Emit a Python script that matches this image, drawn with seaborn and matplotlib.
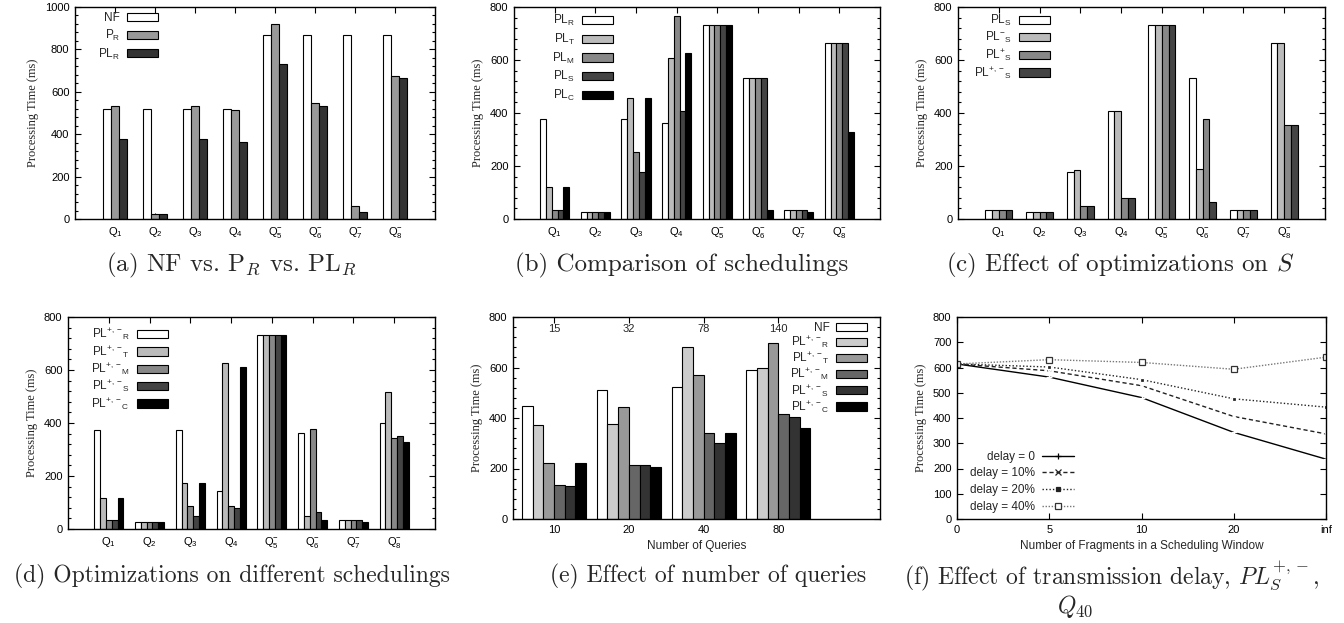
import matplotlib
matplotlib.use('Agg')
import matplotlib.pyplot as plt
from matplotlib.patches import Patch
from matplotlib.lines import Line2D
from matplotlib.ticker import MultipleLocator, AutoMinorLocator
import pandas as pd
import seaborn as sns

# ---------------- data ----------------
queries = [r'$\mathrm{Q_1}$', r'$\mathrm{Q_2}$', r'$\mathrm{Q_3}$', r'$\mathrm{Q_4}$',
           r'$\mathrm{Q^{-}_5}$', r'$\mathrm{Q^{-}_6}$', r'$\mathrm{Q^{-}_7}$', r'$\mathrm{Q^{-}_8}$']

# (a) NF vs. P_R vs. PL_R
a_nf = [520, 520, 520, 520, 870, 870, 870, 870]
a_pr = [532, 25, 532, 516, 921, 549, 63, 673]
a_plr = [377, 24, 377, 361, 731, 532, 34, 664]

# (b) comparison of schedulings
b_plr = [377, 25, 377, 361, 731, 532, 34, 665]
b_plt = [119, 25, 455, 609, 731, 532, 34, 665]
b_plm = [34, 25, 251, 767, 731, 532, 34, 665]
b_pls = [34, 25, 178, 408, 731, 532, 34, 665]
b_plc = [119, 25, 455, 627, 731, 34, 26, 330]

# (c) effect of optimizations on S
c_pls = [34, 25, 178, 409, 731, 532, 33, 664]
c_pls_minus = [34, 25, 186, 409, 731, 188, 33, 664]
c_pls_plus = [34, 25, 48, 80, 731, 376, 33, 353]
c_pls_pm = [34, 25, 48, 80, 731, 63, 33, 353]

# (d) optimizations on different schedulings
d_r = [375, 25, 375, 142, 731, 361, 33, 399]
d_t = [118, 25, 172, 627, 731, 48, 33, 516]
d_m = [33, 25, 87, 87, 731, 376, 33, 344]
d_s = [33, 25, 48, 80, 731, 63, 33, 352]
d_c = [118, 25, 172, 610, 731, 33, 25, 328]

# (e) effect of number of queries
e_groups = ['10', '20', '40', '80']
e_counts = ['15', '32', '78', '140']
e_nf = [447, 511, 523, 591]
e_r = [374, 378, 680, 597]
e_t = [220, 442, 570, 698]
e_m = [136, 212, 340, 416]
e_s = [129, 214, 300, 405]
e_c = [222, 206, 340, 362]

# (f) effect of transmission delay
f_x = ['0', '5', '10', '20', 'inf']
f_d0 = [614, 562, 481, 343, 237]
f_d10 = [614, 587, 528, 406, 337]
f_d20 = [614, 602, 552, 476, 443]
f_d40 = [614, 631, 620, 593, 641]

# ---------------- style ----------------
sns.set_style('ticks')
plt.rcParams['font.family'] = ['Liberation Sans', 'DejaVu Sans']
plt.rcParams['mathtext.fontset'] = 'custom'
plt.rcParams['mathtext.rm'] = 'Liberation Sans'
plt.rcParams['mathtext.it'] = 'Liberation Sans:italic'
plt.rcParams['mathtext.bf'] = 'Liberation Sans:bold'
plt.rcParams['axes.edgecolor'] = 'black'
plt.rcParams['axes.linewidth'] = 1.0

W, H = 1344, 623
TICK = 8
LEG = 8.5
fig = plt.figure(figsize=(W / 100, H / 100), dpi=100)


def px_axes(left, top, right, bottom):
    return fig.add_axes([left / W, 1 - bottom / H, (right - left) / W, (bottom - top) / H])


def style_axes(ax, ymax, ystep, minor=True):
    ax.set_ylim(0, ymax)
    ax.yaxis.set_major_locator(MultipleLocator(ystep))
    if minor:
        ax.yaxis.set_minor_locator(AutoMinorLocator(5))
    ax.tick_params(which='both', direction='in', top=True, right=True,
                   labelsize=TICK, colors='black', width=0.8)
    ax.tick_params(which='major', length=4, pad=4)
    ax.tick_params(which='minor', length=2)
    ax.tick_params(axis='x', which='minor', top=False, bottom=False)
    ax.set_ylabel('Processing Time (ms)', family='Liberation Serif', fontsize=9)
    for s in ax.spines.values():
        s.set_visible(True)
        s.set_linewidth(1.0)


def legend_kw(spacing):
    return dict(frameon=False, markerfirst=False, handlelength=2.6, handleheight=0.7,
                labelspacing=spacing, borderpad=0, borderaxespad=0, handletextpad=0.6,
                fontsize=LEG)


def bar_panel(ax, cats, series, labels, colors, ymax, anchor, spacing=0.3):
    rows = []
    for name, vals in series:
        for c, v in zip(cats, vals):
            rows.append({'cat': c, 'series': name, 'time': v})
    df = pd.DataFrame(rows)
    n = len(series)
    sns.barplot(data=df, x='cat', y='time', hue='series', order=cats,
                hue_order=[s[0] for s in series], palette=colors, saturation=1,
                width=n / (n + 2), edgecolor='black', linewidth=0.8,
                legend=False, ax=ax)
    ax.set_xlim(-1, len(cats))
    ax.set_xlabel('')
    style_axes(ax, ymax, 200)
    handles = [Patch(facecolor=c, edgecolor='black', linewidth=0.8) for c in colors]
    ax.legend(handles, labels, loc='upper right', bbox_to_anchor=anchor, **legend_kw(spacing))


col3 = ['#ffffff', '#999999', '#333333']
col4 = ['#ffffff', '#bbbbbb', '#888888', '#444444']
col5 = ['#ffffff', '#bbbbbb', '#888888', '#444444', '#000000']
col6 = ['#ffffff', '#cccccc', '#999999', '#666666', '#333333', '#000000']

# (a)
ax = px_axes(75, 7, 435, 219)
bar_panel(ax, queries, [('NF', a_nf), ('PR', a_pr), ('PLR', a_plr)],
          ['NF', r'$\mathrm{P_R}$', r'$\mathrm{PL_R}$'], col3, 1000, (0.23, 0.975))

# (b)
ax = px_axes(514, 7, 880, 219)
bar_panel(ax, queries,
          [('R', b_plr), ('T', b_plt), ('M', b_plm), ('S', b_pls), ('C', b_plc)],
          [r'$\mathrm{PL_R}$', r'$\mathrm{PL_T}$', r'$\mathrm{PL_M}$',
           r'$\mathrm{PL_S}$', r'$\mathrm{PL_C}$'], col5, 800, (0.27, 0.97))

# (c)
ax = px_axes(958, 7, 1325, 219)
bar_panel(ax, queries,
          [('S', c_pls), ('S-', c_pls_minus), ('S+', c_pls_plus), ('S+-', c_pls_pm)],
          [r'$\mathrm{PL_S}$', r'$\mathrm{PL^{-}{}_S}$', r'$\mathrm{PL^{+}{}_S}$',
           r'$\mathrm{PL^{+,-}{}_S}$'], col4, 800, (0.25, 0.97), spacing=0.15)

# (d)
ax = px_axes(68, 317, 435, 529)
bar_panel(ax, queries,
          [('R', d_r), ('T', d_t), ('M', d_m), ('S', d_s), ('C', d_c)],
          [r'$\mathrm{PL^{+,-}{}_R}$', r'$\mathrm{PL^{+,-}{}_T}$', r'$\mathrm{PL^{+,-}{}_M}$',
           r'$\mathrm{PL^{+,-}{}_S}$', r'$\mathrm{PL^{+,-}{}_C}$'], col5, 800, (0.272, 0.955),
          spacing=0.12)

# (e)
ax = px_axes(513, 317, 880, 519)
rows = []
for name, vals in [('NF', e_nf), ('R', e_r), ('T', e_t), ('M', e_m), ('S', e_s), ('C', e_c)]:
    for g, v in zip(e_groups, vals):
        rows.append({'group': g, 'series': name, 'time': v})
dfe = pd.DataFrame(rows)
sns.barplot(data=dfe, x='group', y='time', hue='series', order=e_groups,
            hue_order=['NF', 'R', 'T', 'M', 'S', 'C'], palette=col6, saturation=1,
            width=6 / 7, edgecolor='black', linewidth=0.8, legend=False, ax=ax)
ax.set_xlim(-0.55, 4.36)
style_axes(ax, 800, 200)
ax.set_xlabel('Number of Queries', fontsize=8.5)
for i, t in enumerate(e_counts):
    ax.text(i, 752, t, ha='center', va='center', fontsize=TICK)
handles = [Patch(facecolor=c, edgecolor='black', linewidth=0.8) for c in col6]
ax.legend(handles, ['NF', r'$\mathrm{PL^{+,-}{}_R}$', r'$\mathrm{PL^{+,-}{}_T}$',
                    r'$\mathrm{PL^{+,-}{}_M}$', r'$\mathrm{PL^{+,-}{}_S}$',
                    r'$\mathrm{PL^{+,-}{}_C}$'],
          loc='upper right', bbox_to_anchor=(0.965, 0.975), **legend_kw(0.02))

# (f)
ax = px_axes(957, 317, 1326, 519)
pos = list(range(len(f_x)))
specs = [
    ('delay = 0', f_d0, dict(color='black', linestyle='-', marker='+', markersize=5)),
    ('delay = 10%', f_d10, dict(color='#222222', linestyle=(0, (3, 2)), marker='x', markersize=4)),
    ('delay = 20%', f_d20, dict(color='#222222', linestyle=(0, (1, 1.5)), marker='s',
                                markersize=2.5)),
    ('delay = 40%', f_d40, dict(color='#777777', linestyle=(0, (1, 1.2)), marker='s',
                                markersize=4, markerfacecolor='white', markeredgecolor='#333333')),
]
handles = []
for label, vals, kw in specs:
    sns.lineplot(x=pos, y=vals, ax=ax, linewidth=1.0, markeredgewidth=0.9, **kw)
    handles.append(Line2D([], [], linewidth=1.0, markeredgewidth=0.9, **kw))
ax.set_xlim(0, len(f_x) - 1)
ax.set_xticks(pos)
ax.set_xticklabels(f_x)
style_axes(ax, 800, 100, minor=False)
ax.set_xlabel('Number of Fragments in a Scheduling Window', fontsize=8.5)
ax.legend(handles, [s[0] for s in specs], loc='lower right', bbox_to_anchor=(0.317, 0.03),
          frameon=False, markerfirst=False, handlelength=2.7, labelspacing=0.4,
          borderpad=0, borderaxespad=0, handletextpad=0.6, fontsize=LEG)

# ---------------- captions ----------------
cap = dict(family='cmr10', math_fontfamily='cm', fontsize=18, ha='center', va='center')
cap2 = dict(cap, fontsize=17)
fig.text(231 / W, 1 - 265 / H, r'(a) NF vs. P$_R$ vs. PL$_R$', **cap)
fig.text(682 / W, 1 - 265 / H, '(b) Comparison of schedulings', **cap)
fig.text(1120 / W, 1 - 265 / H, r'(c) Effect of optimizations on $S$', **cap)
fig.text(232 / W, 1 - 576 / H, '(d) Optimizations on different schedulings', **cap2)
fig.text(708 / W, 1 - 576 / H, '(e) Effect of number of queries', **cap2)
fig.text(1112 / W, 1 - 576 / H, r'(f) Effect of transmission delay, $PL_S^{+,-}$,', **cap2)
fig.text(1075 / W, 1 - 606 / H, r'$Q_{40}$', **cap2)

fig.savefig('out.png', dpi=100)
